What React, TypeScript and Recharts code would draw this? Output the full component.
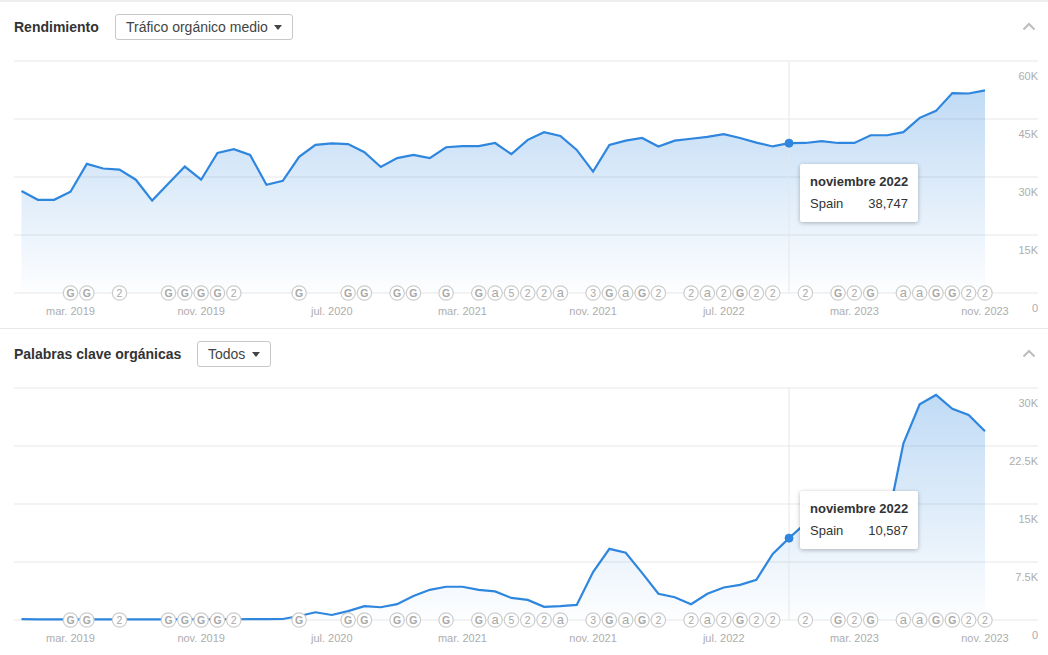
import { ComposedChart, Area, XAxis, YAxis, CartesianGrid, Tooltip, ReferenceDot } from 'recharts';

const months = [
  'dic. 2018', 'ene. 2019', 'feb. 2019', 'mar. 2019', 'abr. 2019', 'may. 2019', 'jun. 2019', 'jul. 2019', 'ago. 2019', 'sep. 2019', 'oct. 2019', 'nov. 2019',
  'dic. 2019', 'ene. 2020', 'feb. 2020', 'mar. 2020', 'abr. 2020', 'may. 2020', 'jun. 2020', 'jul. 2020', 'ago. 2020', 'sep. 2020', 'oct. 2020', 'nov. 2020',
  'dic. 2020', 'ene. 2021', 'feb. 2021', 'mar. 2021', 'abr. 2021', 'may. 2021', 'jun. 2021', 'jul. 2021', 'ago. 2021', 'sep. 2021', 'oct. 2021', 'nov. 2021',
  'dic. 2021', 'ene. 2022', 'feb. 2022', 'mar. 2022', 'abr. 2022', 'may. 2022', 'jun. 2022', 'jul. 2022', 'ago. 2022', 'sep. 2022', 'oct. 2022', 'nov. 2022',
  'dic. 2022', 'ene. 2023', 'feb. 2023', 'mar. 2023', 'abr. 2023', 'may. 2023', 'jun. 2023', 'jul. 2023', 'ago. 2023', 'sep. 2023', 'oct. 2023', 'nov. 2023',
];

const monthTicks = ['mar. 2019', 'nov. 2019', 'jul. 2020', 'mar. 2021', 'nov. 2021', 'jul. 2022', 'mar. 2023', 'nov. 2023'];

const trafficValues = [
  26400, 24100, 24100, 26200, 33400, 32200, 31900, 29300, 23900, 28300, 32700, 29300,
  36200, 37200, 35700, 28000, 29000, 35200, 38300, 38700, 38500, 36400, 32600, 34900,
  35700, 34900, 37700, 38000, 38000, 38800, 35900, 39600, 41600, 40600, 37000, 31400,
  38300, 39400, 40100, 37900, 39400, 39900, 40400, 41100, 40100, 38900, 37900, 38747,
  38800, 39300, 38800, 38800, 40800, 40800, 41600, 45300, 47100, 51700, 51600, 52400,
];

const keywordValues = [
  120, 80, 70, 80, 70, 70, 80, 70, 70, 70, 70, 90,
  90, 100, 110, 110, 130, 520, 1000, 650, 1150, 1800, 1650, 2050,
  3100, 3900, 4300, 4300, 3900, 3700, 2850, 2600, 1700, 1800, 1950, 6200,
  9200, 8700, 6100, 3400, 2950, 2050, 3400, 4200, 4550, 5200, 8550, 10587,
  12500, 12300, 12100, 12000, 12100, 12400, 22800, 27900, 29100, 27300, 26500, 24400,
];

const trafficTicks = [0, 15000, 30000, 45000, 60000];
const keywordTicks = [0, 7500, 15000, 22500, 30000];

const eventMonths = [
  'mar. 2019', 'abr. 2019', 'jun. 2019', 'sep. 2019', 'oct. 2019', 'nov. 2019', 'dic. 2019', 'ene. 2020',
  'may. 2020', 'ago. 2020', 'sep. 2020', 'nov. 2020', 'dic. 2020', 'feb. 2021', 'abr. 2021', 'may. 2021',
  'jun. 2021', 'jul. 2021', 'ago. 2021', 'sep. 2021', 'nov. 2021', 'dic. 2021', 'ene. 2022', 'feb. 2022',
  'mar. 2022', 'may. 2022', 'jun. 2022', 'jul. 2022', 'ago. 2022', 'sep. 2022', 'oct. 2022', 'dic. 2022',
  'feb. 2023', 'mar. 2023', 'abr. 2023', 'jun. 2023', 'jul. 2023', 'ago. 2023', 'sep. 2023', 'oct. 2023', 'nov. 2023',
];
const eventLabels = [
  'G', 'G', '2', 'G', 'G', 'G', 'G', '2',
  'G', 'G', 'G', 'G', 'G', 'G', 'G', 'a',
  '5', '2', '2', 'a', '3', 'G', 'a', 'G',
  '2', '2', 'a', '2', 'G', '2', '2', '2',
  'G', '2', 'G', 'a', 'a', 'G', 'G', '2', '2',
];

const MUTED = '#adadad';
const BLUE = '#2e86de';

const formatK = (v: number) => (v === 0 ? '0' : `${v / 1000}K`);

function monthLong(short: string) {
  const names: Record<string, string> = { nov: 'noviembre' };
  const [m, y] = short.split('. ');
  return `${names[m] ?? m} ${y}`;
}

function SpotTooltip({ payload }: any) {
  const row = payload && payload[0];
  if (!row) return null;
  return (
    <div
      style={{
        width: 98,
        height: 58,
        padding: '0 10px',
        background: '#fff',
        borderRadius: 2,
        boxShadow: '0 1px 4px rgba(0,0,0,0.28)',
        fontSize: 13,
        color: '#333',
        boxSizing: 'content-box',
      }}
    >
      <div style={{ fontWeight: 700, paddingTop: 10, lineHeight: '15px', whiteSpace: 'nowrap' }}>{monthLong(row.payload.month)}</div>
      <div style={{ display: 'flex', justifyContent: 'space-between', marginTop: 7, lineHeight: '15px' }}>
        <span>Spain</span>
        <span>{row.value.toLocaleString('en-US')}</span>
      </div>
    </div>
  );
}

function EventBadge({ cx, cy, label }: any) {
  const big = label === 'a';
  return (
    <g>
      <circle cx={cx} cy={cy} r={7.2} fill="#fff" stroke="#cdcdcd" strokeWidth={1.2} />
      <text x={cx} y={cy} dy={big ? 3.5 : 3.7} textAnchor="middle" fontSize={big ? 13 : 10.5} fontWeight={label === 'G' ? 700 : 400} fill="#a8a8a8">
        {label}
      </text>
    </g>
  );
}

function ValueTick({ x, y, payload }: any) {
  return (
    <text x={x} y={y} dy={19} textAnchor="end" fontSize={11} fill={MUTED}>
      {formatK(payload.value)}
    </text>
  );
}

function MetricChart({ id, values, ticks, top, height, marginTop, tooltipY }: any) {
  const rows = months.map((month, i) => ({ month, value: values[i] }));
  return (
    <div style={{ position: 'absolute', left: 0, top, width: 1048, height }}>
      <ComposedChart width={1048} height={height} data={rows} margin={{ top: marginTop, right: 10, bottom: 5, left: 14 }}>
        <defs>
          <linearGradient id={id} x1="0" y1="0" x2="0" y2="1">
            <stop offset="0%" stopColor={BLUE} stopOpacity={0.3} />
            <stop offset="100%" stopColor={BLUE} stopOpacity={0.01} />
          </linearGradient>
        </defs>
        <CartesianGrid vertical={false} stroke="#f3f3f3" strokeWidth={2} />
        <XAxis
          dataKey="month"
          ticks={monthTicks}
          interval={0}
          height={30}
          padding={{ left: 7.5, right: 53 }}
          axisLine={false}
          tickLine={false}
          tick={{ fill: MUTED, fontSize: 11 }}
          tickMargin={8}
        />
        <YAxis
          orientation="right"
          mirror
          domain={[0, ticks[4]]}
          ticks={ticks}
          axisLine={false}
          tickLine={false}
          tickMargin={0}
          tickSize={0}
          tick={<ValueTick />}
        />
        <Tooltip
          active
          defaultIndex={47}
          position={{ x: 800, y: tooltipY }}
          content={<SpotTooltip />}
          cursor={{ stroke: '#e6e6e6', strokeWidth: 1 }}
          isAnimationActive={false}
          wrapperStyle={{ outline: 'none' }}
        />
        <Area
          dataKey="value"
          type="linear"
          stroke={BLUE}
          strokeWidth={2.2}
          fill={`url(#${id})`}
          fillOpacity={1}
          dot={false}
          activeDot={{ r: 4, fill: BLUE, stroke: BLUE, strokeWidth: 1 }}
          isAnimationActive={false}
        />
        {eventMonths.map((m, i) => (
          <ReferenceDot
            key={m}
            x={m}
            y={0}
            r={7}
            ifOverflow="visible"
            shape={(p: any) => <EventBadge cx={p.cx} cy={p.cy} label={eventLabels[i]} />}
          />
        ))}
      </ComposedChart>
    </div>
  );
}

function Dropdown({ left, top, width, text }: any) {
  return (
    <div
      style={{
        position: 'absolute',
        left,
        top,
        width,
        height: 26,
        boxSizing: 'border-box',
        border: '1px solid #c8c8c8',
        borderRadius: 3,
        fontSize: 14,
        lineHeight: '24px',
        color: '#444',
        paddingLeft: 10,
        whiteSpace: 'nowrap',
      }}
    >
      {text}
      <span
        style={{
          position: 'absolute',
          right: 10,
          top: 10,
          width: 0,
          height: 0,
          borderLeft: '4px solid transparent',
          borderRight: '4px solid transparent',
          borderTop: '5px solid #444',
        }}
      />
    </div>
  );
}

function Chevron({ top }: any) {
  return (
    <svg style={{ position: 'absolute', left: 1022, top }} width={14} height={9}>
      <polyline points="1.5,7.5 7,2 12.5,7.5" fill="none" stroke="#bdbdbd" strokeWidth={2} />
    </svg>
  );
}

function Title({ top, text }: any) {
  return (
    <div style={{ position: 'absolute', left: 14, top, fontSize: 14, lineHeight: '18px', fontWeight: 700, color: '#333', whiteSpace: 'nowrap' }}>
      {text}
    </div>
  );
}

export default function App() {
  return (
    <div style={{ position: 'absolute', left: 0, top: 0, width: 1048, height: 655, background: '#fff', overflow: 'hidden', fontFamily: 'Arial, "Liberation Sans", sans-serif' }}>
      <div style={{ position: 'absolute', left: 0, top: 0, width: 1048, height: 2, background: '#eeeeee' }} />
      <div style={{ position: 'absolute', left: 0, top: 328, width: 1048, height: 1, background: '#e8e8e8' }} />

      <MetricChart id="trafficFill" values={trafficValues} ticks={trafficTicks} top={0} height={328} marginTop={61} tooltipY={164} />
      <MetricChart id="keywordFill" values={keywordValues} ticks={keywordTicks} top={328} height={327} marginTop={60} tooltipY={163} />

      <Title top={18} text="Rendimiento" />
      <Dropdown left={115} top={14} width={178} text="Tráfico orgánico medio" />
      <Chevron top={22} />

      <Title top={345} text="Palabras clave orgánicas" />
      <Dropdown left={197} top={341} width={74} text="Todos" />
      <Chevron top={349} />
    </div>
  );
}
